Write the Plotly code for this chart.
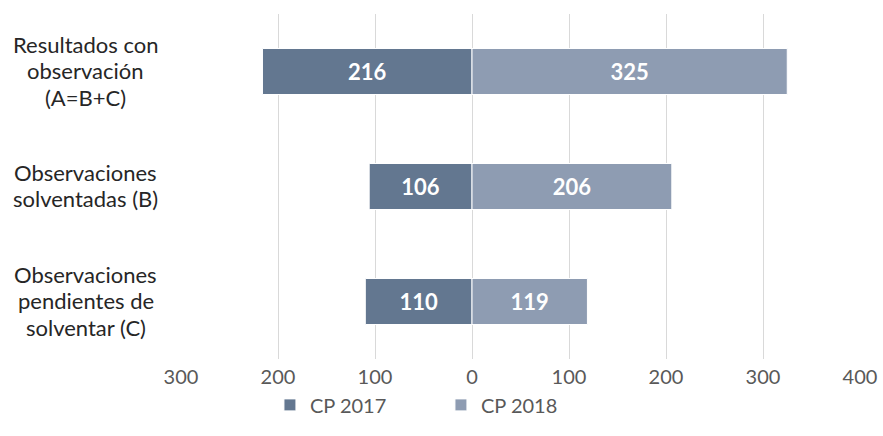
import plotly.graph_objects as go

categories = ["Resultados con<br>observación<br>(A=B+C)",
              "Observaciones<br>solventadas (B)",
              "Observaciones<br>pendientes de<br>solventar (C)"]
cp2017 = [216, 106, 110]
cp2018 = [325, 206, 119]
tick_vals = [-300, -200, -100, 0, 100, 200, 300, 400]
tick_text = ["300", "200", "100", "0", "100", "200", "300", "400"]

FONT = "Lato, sans-serif"
ypos = list(range(len(categories)))

fig = go.Figure()
fig.add_trace(go.Bar(
    name="CP 2017", y=ypos, x=[-v for v in cp2017], orientation="h",
    width=0.4, marker=dict(color="#637790", line=dict(color="white", width=1)),
    text=[str(v) for v in cp2017], textposition="inside", insidetextanchor="middle",
    textfont=dict(family=FONT, size=22, color="white", weight="bold"),
    hoverinfo="skip"))
fig.add_trace(go.Bar(
    name="CP 2018", y=ypos, x=cp2018, orientation="h",
    width=0.4, marker=dict(color="#8e9cb2", line=dict(color="white", width=1)),
    text=[str(v) for v in cp2018], textposition="inside", insidetextanchor="middle",
    textfont=dict(family=FONT, size=22, color="white", weight="bold"),
    hoverinfo="skip"))

LINE_H = 26.5
for i, c in enumerate(categories):
    lines = c.split("<br>")
    n = len(lines)
    for j, ln in enumerate(lines):
        off = (j - (n - 1) / 2) * LINE_H
        fig.add_annotation(x=-0.14, xref="paper", y=i, yref="y", text=ln,
                           showarrow=False, xanchor="center", yanchor="middle",
                           yshift=-off + 1,
                           font=dict(family=FONT, size=22, color="#262626"))

fig.update_layout(
    width=883, height=436,
    margin=dict(l=181, r=23, t=14, b=70),
    paper_bgcolor="white", plot_bgcolor="white",
    barmode="overlay",
    font=dict(family=FONT, size=20, color="#595959"),
    showlegend=True,
    legend=dict(orientation="h", x=0.131, xanchor="left", y=-0.133, yanchor="middle",
                font=dict(family=FONT, size=20, color="#595959"),
                entrywidth=126, entrywidthmode="pixels",
                itemclick=False, itemdoubleclick=False),
    xaxis=dict(range=[-300, 400], tickvals=tick_vals, ticktext=tick_text,
               showgrid=True, gridcolor="#d9d9d9", gridwidth=1.3,
               zeroline=True, zerolinecolor="#d9d9d9", zerolinewidth=1.3,
               showline=False, ticks="", fixedrange=True, ticklabelstandoff=4,
               automargin=False,
               tickfont=dict(family=FONT, size=20, color="#595959")),
    yaxis=dict(range=[2.5, -0.5], showticklabels=False, showgrid=False,
               zeroline=False, showline=False, ticks="", fixedrange=True),
)

fig.write_html("out.html", config={"displayModeBar": False},
               post_script="document.body.style.margin='0';document.body.style.overflow='hidden';")
